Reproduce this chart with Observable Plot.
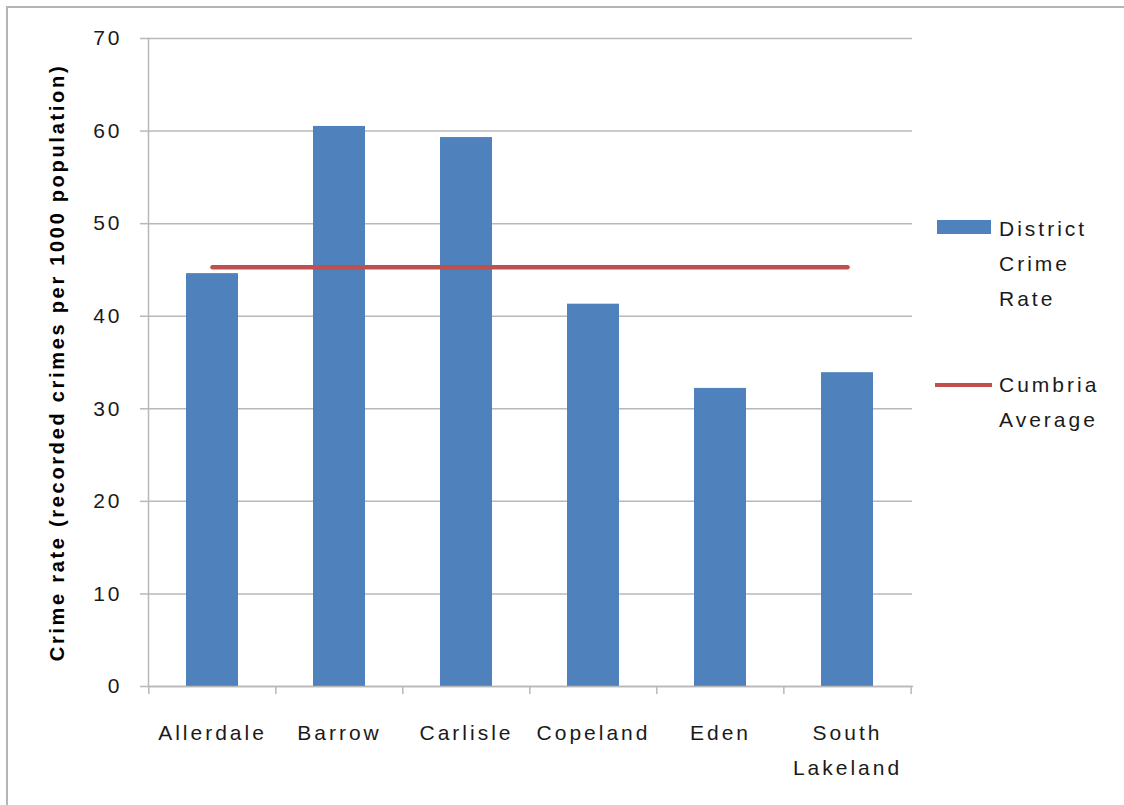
<!DOCTYPE html>
<html>
<head>
<meta charset="utf-8">
<script src="https://cdn.jsdelivr.net/npm/d3@7"></script>
<script src="https://cdn.jsdelivr.net/npm/@observablehq/plot@0.6"></script>
<style>
  body { margin: 0; background: #fff; }
  #wrap { position: relative; width: 1124px; height: 805px; overflow: hidden; background: #fff; }
  #border { position: absolute; left: 6px; top: 6px; width: 1200px; height: 900px;
            border-left: 2px solid #b4b4b4; border-top: 2px solid #b4b4b4; }
  #chart { position: absolute; left: 0; top: 0; }
  #chart svg g[aria-label="x-axis tick label"] text,
  #chart svg g[aria-label="y-axis tick label"] text { letter-spacing: 3px; }
  #chart svg g[aria-label="text"] text { letter-spacing: 2.7px; }
  .legend { position: absolute; font-family: "Liberation Sans", Arial, sans-serif; font-size: 21px;
            letter-spacing: 3px; color: #1a1a1a; line-height: 35px; }
  .sw { position: absolute; }
</style>
</head>
<body>
<div id="wrap">
  <div id="border"></div>
  <div id="chart"></div>
  <div class="sw" style="left:937px;top:220px;width:54px;height:14px;background:#4f81bd;"></div>
  <div class="legend" style="left:999px;top:211px;">District<br>Crime<br>Rate</div>
  <div class="sw" style="left:935px;top:383px;width:57px;height:4px;background:#c0504d;"></div>
  <div class="legend" style="left:999px;top:367px;">Cumbria<br>Average</div>
</div>
<script>
const districts = ["Allerdale", "Barrow", "Carlisle", "Copeland", "Eden", "South Lakeland"];
const crimeRates = [44.6, 60.5, 59.3, 41.3, 32.2, 33.9];
const cumbriaAverage = 45.3;
const yTicks = [0, 10, 20, 30, 40, 50, 60, 70];
const yTitle = "Crime rate (recorded crimes per 1000 population)";

const barData = districts.map((d, i) => ({district: d, rate: crimeRates[i]}));
const avgData = districts.map(d => ({district: d, rate: cumbriaAverage}));

const W = 1124, H = 805, mL = 148, mR = 212, mT = 38, mB = 119;
const step = (W - mL - mR) / districts.length;
const grid = "#b8b8b8";

const plot = Plot.plot({
  width: W, height: H,
  marginLeft: mL, marginRight: mR, marginTop: mT, marginBottom: mB,
  style: {fontFamily: "'Liberation Sans', Arial, sans-serif", fontSize: "21px", color: "#1a1a1a", background: "transparent", overflow: "visible"},
  x: {domain: districts, paddingInner: 0.59, paddingOuter: 0.295, label: null, axis: null},
  y: {domain: [0, 70], label: null, axis: null},
  marks: [
    Plot.gridY(yTicks, {stroke: grid, strokeOpacity: 1, strokeWidth: 1.5}),
    Plot.barY(barData, {x: "district", y: "rate", fill: "#4f81bd"}),
    Plot.line(avgData, {x: "district", y: "rate", stroke: "#c0504d", strokeWidth: 4.5, strokeLinecap: "round"}),
    Plot.frame({anchor: "left", stroke: grid, strokeWidth: 1.5}),
    Plot.frame({anchor: "bottom", stroke: grid, strokeWidth: 1.5}),
    Plot.axisY(yTicks, {tickSize: 8, tickPadding: 18, stroke: grid, strokeWidth: 1.5, label: null}),
    Plot.axisX(districts, {tickSize: 8, tickFormat: () => "", dx: -step / 2, stroke: grid, strokeWidth: 1.5, label: null}),
    Plot.axisX([districts[districts.length - 1]], {tickSize: 8, tickFormat: () => "", dx: step / 2, stroke: grid, strokeWidth: 1.5, label: null}),
    Plot.axisX(districts, {tickSize: 0, tickPadding: 29, lineHeight: 1.67, label: null,
      tickFormat: d => d === "South Lakeland" ? "South\nLakeland" : d}),
    Plot.text([yTitle], {frameAnchor: "left", textAnchor: "middle", rotate: -90, dx: -91,
      fontWeight: "bold", fontSize: 20, fill: "#000"})
  ]
});
document.getElementById("chart").appendChild(plot);
</script>
</body>
</html>
